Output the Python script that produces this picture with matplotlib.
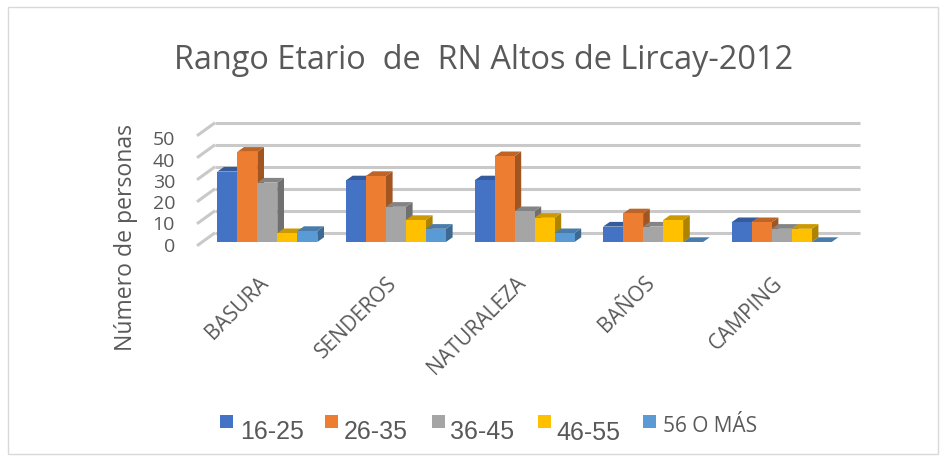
import numpy as np
import matplotlib.pyplot as plt
from matplotlib.colors import to_rgb
from matplotlib.patches import Polygon, Rectangle

categories = ["BASURA", "SENDEROS", "NATURALEZA", "BAÑOS", "CAMPING"]
series_names = ["16-25", "26-35", "36-45", "46-55", "56 O MÁS"]
edad_16_25 = [32, 28, 28, 7, 9]
edad_26_35 = [41, 30, 39, 13, 9]
edad_36_45 = [27, 16, 14, 7, 6]
edad_46_55 = [4, 10, 11, 10, 6]
edad_56_mas = [5, 6, 4, 0, 0]
y_ticks = [0, 10, 20, 30, 40, 50]

series = [edad_16_25, edad_26_35, edad_36_45, edad_46_55, edad_56_mas]
colors = ["#4472C4", "#ED7D31", "#A5A5A5", "#FFC000", "#5B9BD5"]
txt_c = "#595959"
grid_c = "#c9c9c9"


def shade(c, k):
    return tuple(k * v for v in to_rgb(c))


W, H = 946, 464
fig = plt.figure(figsize=(W / 100, H / 100), dpi=100)

# axes placed so that one category = 128.6 px and one person = 2.2 px
left, right, top, bottom = 140, 880, 100, 400
x0, sx = 267.3, 128.6
y0, sy = 243.0, 2.2
ax = fig.add_axes([left / W, 1 - bottom / H, (right - left) / W, (bottom - top) / H])
ax.set_xlim((left - x0) / sx, (right - x0) / sx)
ax.set_ylim((y0 - bottom) / sy, (y0 - top) / sy)
ax.axis("off")

# back wall and side wall gridlines
wall_l, wall_r = (215 - x0) / sx, (860 - x0) / sx
side_l = (197 - x0) / sx
wall_dy, front_dy = 4.2, -1.7
for t in y_ticks:
    ax.plot([wall_l, wall_r], [t + wall_dy, t + wall_dy], color=grid_c, lw=2.2,
            solid_capstyle="butt", zorder=1)
    ax.plot([side_l, wall_l], [t + front_dy, t + wall_dy], color=grid_c, lw=2.2,
            solid_capstyle="butt", zorder=1)
    ax.text((175 - x0) / sx, front_dy + 0.968 * t, str(t), ha="right", va="center",
            fontsize=14, color=txt_c, family="Open Sans")

# pseudo 3d bars
n = len(series)
bw = 20 / sx
dx, dy = 6.7 / sx, 4.7 / sy
xc = np.arange(len(categories))
for j, (vals, c) in enumerate(zip(series, colors)):
    xl = xc - n * bw / 2 + j * bw
    for x, v in zip(xl, vals):
        side = [(x + bw, 0), (x + bw + dx, dy), (x + bw + dx, v + dy), (x + bw, v)]
        topf = [(x, v), (x + dx, v + dy), (x + bw + dx, v + dy), (x + bw, v)]
        ax.add_patch(Polygon(side, closed=True, color=shade(c, 0.68), lw=0, zorder=1))
        ax.add_patch(Polygon(topf, closed=True, color=shade(c, 0.8), lw=0, zorder=1))
    ax.bar(xl, vals, bw, align="edge", color=c, lw=0, zorder=1)

# category labels
for i, cat in enumerate(categories):
    ax.text(xc[i] + 2 / sx, (y0 - 284) / sy, cat, rotation=45, rotation_mode="anchor",
            ha="right", va="baseline", fontsize=15, color=txt_c, family="Open Sans")

fig.text(484 / W, 1 - 69.3 / H, "Rango Etario  de  RN Altos de Lircay-2012",
         ha="center", va="baseline", fontsize=23.4, color=txt_c, family="Open Sans")
fig.text(126 / W, 1 - 237.5 / H, "Número de personas", rotation=90,
         ha="center", va="center", fontsize=16.6, color=txt_c, family="Open Sans")

# legend
sq_x = [220, 325, 432, 538, 643]
lab_x = [240, 344, 450, 556, 663]
lab_base = [439.3, 439.5, 439.5, 440, 432.3]
for k, name in enumerate(series_names):
    fig.add_artist(Rectangle((sq_x[k] / W, 1 - 429 / H), 13 / W, 13 / H,
                             transform=fig.transFigure, color=colors[k], lw=0))
    if k < 4:
        fig.text(lab_x[k] / W, 1 - lab_base[k] / H, name, ha="left", va="baseline",
                 fontsize=18, color=txt_c, family="Liberation Sans")
    else:
        fig.text(lab_x[k] / W, 1 - lab_base[k] / H, name, ha="left", va="baseline",
                 fontsize=15, color=txt_c, family="Open Sans")

fig.add_artist(Rectangle((8 / W, 1 - 455 / H), 930 / W, 447 / H, transform=fig.transFigure,
                         fill=False, ec="#d9d9d9", lw=1))

fig.savefig("out.png", dpi=100)
